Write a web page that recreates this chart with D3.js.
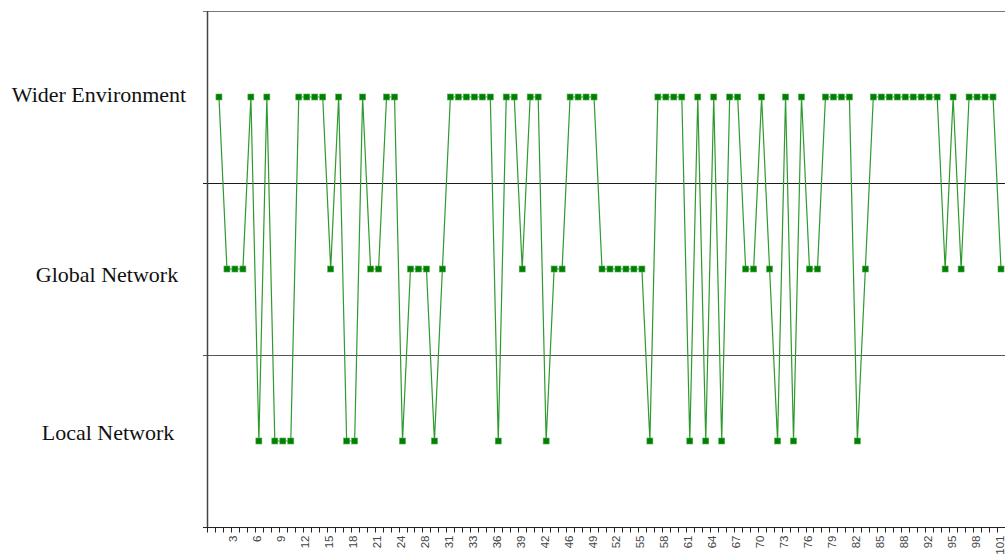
<!DOCTYPE html>
<html>
<head>
<meta charset="utf-8">
<script src="https://cdn.jsdelivr.net/npm/d3@7"></script>
<style>
  html, body { margin: 0; padding: 0; background: #ffffff; }
  svg { display: block; }
</style>
</head>
<body>
<svg id="chart" width="1005" height="557"></svg>
<script>
// ---- data ----
const levels = ["Wider Environment", "Global Network", "Local Network"];
const levelCodes = { W: "Wider Environment", G: "Global Network", L: "Local Network" };
// category labels (first category is blank)
const categories = ["",
  "1","2","3","4","5","6","7","8","9","10",
  "11","12","13","14","15","16","17","18","19","20",
  "21","22","23","24","25","26","28","29","30","31",
  "32","32","33","34","35","36","37","38","39","40",
  "41","42","43","45","46","47","48","49","50","51",
  "52","53","54","55","56","57","58","59","60","61",
  "62","63","64","65","66","67","68","69","70","71",
  "72","73","74","75","76","77","78","79","80","81",
  "82","83","84","85","86","87","88","89","91","92",
  "93","94","95","96","97","98","99","100","101"];
// observed level for each non-blank category (W = Wider, G = Global, L = Local)
const series = [
  "W","G","G","G","W","L","W","L","L","L",
  "W","W","W","W","G","W","L","L","W","G",
  "G","W","W","L","G","G","G","L","G","W",
  "W","W","W","W","W","L","W","W","G","W",
  "W","L","G","G","W","W","W","W","G","G",
  "G","G","G","G","L","W","W","W","W","L",
  "W","L","W","L","W","W","G","G","W","G",
  "L","W","L","W","G","G","W","W","W","W",
  "L","G","W","W","W","W","W","W","W","W",
  "W","G","W","G","W","W","W","W","G"];

// ---- layout / style ----
const plot = { left: 207, right: 1005, top: 11, bottom: 527 };
const labelPos = {
  "Wider Environment": { cx: 99, dy: 5 },
  "Global Network": { cx: 107, dy: 13 },
  "Local Network": { cx: 108, dy: -1 }
};

const svg = d3.select("#chart");

const x = d3.scaleBand()
  .domain(d3.range(categories.length))
  .range([plot.left, plot.right])
  .paddingInner(0).paddingOuter(0);

const y = d3.scaleBand()
  .domain(levels)
  .range([plot.top, plot.bottom]);

// top border + gridlines at band boundaries
const bounds = [plot.top, y(levels[1]), y(levels[2])];
const boundColors = ["#777777", "#1a1a1a", "#555555"];
svg.append("g").selectAll("line")
  .data(bounds)
  .join("line")
  .attr("x1", plot.left - 4)
  .attr("x2", plot.right)
  .attr("y1", d => Math.round(d) + 0.5)
  .attr("y2", d => Math.round(d) + 0.5)
  .attr("stroke", (d, i) => boundColors[i])
  .attr("stroke-width", 1);

// left axis line
svg.append("line")
  .attr("x1", plot.left + 0.5).attr("x2", plot.left + 0.5)
  .attr("y1", plot.top).attr("y2", plot.bottom + 1)
  .attr("stroke", "#444444").attr("stroke-width", 1.5);

// bottom axis with ticks at category boundaries
const xAxisG = svg.append("g")
  .attr("transform", `translate(0,${plot.bottom + 0.5})`);
xAxisG.append("line")
  .attr("x1", plot.left - 4).attr("x2", plot.right)
  .attr("stroke", "#222222").attr("stroke-width", 1);
xAxisG.selectAll("line.tick")
  .data(d3.range(categories.length + 1))
  .join("line")
  .attr("class", "tick")
  .attr("x1", i => Math.round(i < categories.length ? x(i) : plot.right) + 0.5)
  .attr("x2", i => Math.round(i < categories.length ? x(i) : plot.right) + 0.5)
  .attr("y1", 0).attr("y2", 5)
  .attr("stroke", "#222222").attr("stroke-width", 1);

xAxisG.selectAll("text")
  .data(d3.range(0, categories.length, 3))
  .join("text")
  .attr("transform", i => `translate(${x(i) + x.bandwidth() / 2 + 2.5},8) rotate(-90)`)
  .attr("text-anchor", "end")
  .attr("font-family", "Liberation Sans, Arial, sans-serif")
  .attr("font-size", 11.5)
  .attr("fill", "#444444")
  .text(i => categories[i]);

// y labels
svg.append("g").selectAll("text")
  .data(levels)
  .join("text")
  .attr("x", d => labelPos[d].cx)
  .attr("y", d => y(d) + y.bandwidth() / 2 + labelPos[d].dy)
  .attr("text-anchor", "middle")
  .attr("font-family", "Liberation Serif, Times New Roman, serif")
  .attr("font-size", 22)
  .attr("fill", "#111111")
  .text(d => d);

// line + markers
const pts = series.map((c, k) => ({ i: k + 1, level: levelCodes[c] }));
const px = d => x(d.i) + x.bandwidth() / 2;
const py = d => y(d.level) + y.bandwidth() / 2;

svg.append("path")
  .datum(pts)
  .attr("fill", "none")
  .attr("stroke", "#2f9a2f")
  .attr("stroke-width", 1.2)
  .attr("d", d3.line().x(px).y(py));

const ms = 6;
svg.append("g").selectAll("rect")
  .data(pts)
  .join("rect")
  .attr("x", d => px(d) - ms / 2)
  .attr("y", d => py(d) - ms / 2)
  .attr("width", ms).attr("height", ms)
  .attr("fill", "#008000")
  .attr("stroke", "#55aa55")
  .attr("stroke-width", 0.6);
</script>
</body>
</html>
